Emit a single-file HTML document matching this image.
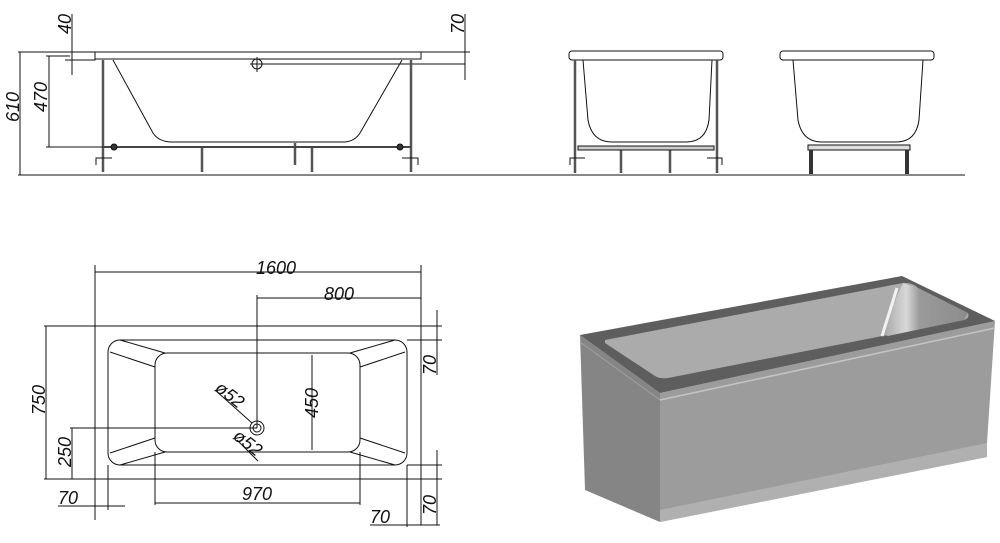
<!DOCTYPE html>
<html><head><meta charset="utf-8"><style>
html,body{margin:0;padding:0;background:#fff;width:1000px;height:543px;overflow:hidden}
text{font-family:"Liberation Sans",sans-serif;font-style:italic;font-size:18px;fill:#111}
</style></head><body>
<svg width="1000" height="543" viewBox="0 0 1000 543" xmlns="http://www.w3.org/2000/svg">
<defs>
<linearGradient id="ew" x1="0" y1="0" x2="1" y2="0"><stop offset="0" stop-color="#a0a0a0"/><stop offset="0.3" stop-color="#d8d8d8"/><stop offset="0.45" stop-color="#9a9a9a"/><stop offset="1" stop-color="#8c8c8c"/></linearGradient>
</defs>
<g stroke="#111" stroke-width="1" fill="none">
<line x1="18" y1="175" x2="965" y2="175"/>
<!-- front view -->
<path d="M72 52 H421 V59 H95 V60 H72 Z" fill="#fff"/>
<line x1="95" y1="52" x2="95" y2="59"/>
<path d="M113 60 L153 133 Q158 141 170 142 L345 142 Q355 141 360 133 L402 60"/>
<circle cx="257" cy="64" r="5"/><line x1="257" y1="57" x2="257" y2="72"/><line x1="250" y1="64" x2="264" y2="64"/>
<line x1="262" y1="64" x2="465" y2="64"/>
<g stroke="#555" stroke-width="2.5"><line x1="103" y1="60" x2="103" y2="172"/><line x1="411" y1="60" x2="411" y2="172"/>
<line x1="202" y1="148" x2="202" y2="172"/><line x1="312" y1="148" x2="312" y2="172"/><line x1="295" y1="143" x2="295" y2="165"/></g>
<line x1="103" y1="147" x2="411" y2="147" stroke="#444" stroke-width="2"/>
<circle cx="114" cy="147" r="3" fill="#333"/><circle cx="400" cy="147" r="3" fill="#333"/>
<path d="M96 165 V158 H112 M418 165 V158 H402"/>
<line x1="18" y1="52" x2="95" y2="52"/><line x1="20" y1="52" x2="20" y2="175"/>
<line x1="46" y1="56" x2="70" y2="56"/><line x1="49" y1="56" x2="49" y2="147"/><line x1="46" y1="147" x2="103" y2="147"/>
<line x1="72" y1="14" x2="72" y2="75"/><line x1="65" y1="60" x2="80" y2="60"/>
<line x1="421" y1="52" x2="470" y2="52"/><line x1="465" y1="14" x2="465" y2="80"/>
<!-- side view 1 -->
<rect x="569" y="51" width="154" height="9" rx="3" fill="#fff"/>
<path d="M583 60 L588 120 Q592 142 612 142 L686 142 Q706 142 709 120 L712 60"/>
<g stroke="#555" stroke-width="2.5"><line x1="575" y1="60" x2="575" y2="173"/><line x1="717" y1="60" x2="717" y2="173"/>
<line x1="621" y1="150" x2="621" y2="173"/><line x1="670" y1="150" x2="670" y2="173"/></g>
<rect x="578" y="146" width="136" height="4" fill="#ccc"/>
<path d="M570 165 V158 H585 M722 165 V158 H707"/>
<!-- side view 2 -->
<rect x="780" y="51" width="154" height="9" rx="3" fill="#fff"/>
<path d="M793 60 L798 120 Q802 142 822 142 L896 142 Q916 142 919 120 L923 60"/>
<rect x="808" y="145" width="102" height="5" fill="#ddd"/>
<g stroke-width="4" stroke="#333"><line x1="811" y1="150" x2="811" y2="174"/><line x1="907" y1="150" x2="907" y2="174"/></g>
<!-- plan view -->
<rect x="95" y="326" width="326" height="153"/>
<rect x="108" y="340" width="299" height="125" rx="12"/>
<rect x="155" y="353" width="205" height="99" rx="12"/>
<path d="M120 340 L165 353 M110 352 L155 367 M395 340 L350 353 M405 352 L360 367 M120 465 L165 452 M110 453 L155 438 M395 465 L350 452 M405 453 L360 438"/>
<line x1="95" y1="265" x2="95" y2="520"/><line x1="421" y1="265" x2="421" y2="525"/>
<line x1="95" y1="272" x2="421" y2="272"/>
<line x1="257" y1="298" x2="421" y2="298"/><line x1="257" y1="295" x2="257" y2="428"/>
<circle cx="257" cy="428" r="7"/><circle cx="257" cy="428" r="4"/>
<line x1="215" y1="390" x2="252" y2="423"/><line x1="237" y1="440" x2="258" y2="461"/>
<line x1="312" y1="355" x2="312" y2="450"/><line x1="300" y1="353" x2="320" y2="353"/><line x1="300" y1="452" x2="320" y2="452"/>
<line x1="44" y1="326" x2="95" y2="326"/><line x1="44" y1="479" x2="95" y2="479"/><line x1="46" y1="326" x2="46" y2="479"/>
<line x1="70" y1="428" x2="257" y2="428"/><line x1="72" y1="428" x2="72" y2="479"/>
<line x1="155" y1="452" x2="155" y2="505"/><line x1="360" y1="452" x2="360" y2="505"/><line x1="155" y1="503" x2="360" y2="503"/>
<line x1="108" y1="465" x2="108" y2="510"/><line x1="58" y1="506" x2="125" y2="506"/>
<line x1="407" y1="465" x2="407" y2="527"/><line x1="370" y1="525" x2="440" y2="525"/>
<line x1="421" y1="326" x2="442" y2="326"/><line x1="407" y1="340" x2="442" y2="340"/><line x1="437" y1="310" x2="437" y2="375"/>
<line x1="421" y1="479" x2="442" y2="479"/><line x1="407" y1="465" x2="442" y2="465"/><line x1="437" y1="450" x2="437" y2="525"/>
</g>
<text transform="translate(19,122) rotate(-90)">610</text>
<text transform="translate(47,112) rotate(-90)">470</text>
<text transform="translate(71,34) rotate(-90)">40</text>
<text transform="translate(464,34) rotate(-90)">70</text>
<text x="256" y="274">1600</text>
<text x="324" y="300">800</text>
<text transform="translate(45,415) rotate(-90)">750</text>
<text transform="translate(71,467) rotate(-90)">250</text>
<text transform="translate(318,418) rotate(-90)">450</text>
<text transform="translate(436,375) rotate(-90)">70</text>
<text transform="translate(436,515) rotate(-90)">70</text>
<text x="242" y="500">970</text>
<text x="58" y="504">70</text>
<text x="370" y="523">70</text>
<text transform="translate(214,390) rotate(38)" font-size="15">ø52</text>
<text transform="translate(232,438) rotate(38)" font-size="15">ø52</text>
<!-- 3D render -->
<polygon points="580,335 660,393 660,522 585,490" fill="#858585"/>
<polygon points="660,393 995,321 987,443 987,457 660,522" fill="#9c9c9c"/>
<polygon points="660,510 987,443 987,457 660,522" fill="#b0b0b0"/>
<polygon points="580,335 902,276 995,321 660,393" fill="#5e5e5e"/>
<path d="M605,340 L903,283 Q912,282 918,288 L968,313 Q970,318 964,320 L668,378 Q660,379 655,376 L605,343 Z" fill="#ababab"/>
<polygon points="903,283 918,288 968,313 964,320 888,336 880,334" fill="url(#ew)"/>
<line x1="897" y1="288" x2="882" y2="336" stroke="#f2f2f2" stroke-width="3"/>
<line x1="660" y1="400" x2="995" y2="328" stroke="#c4c4c4" stroke-width="1.5"/>
<line x1="580" y1="342" x2="660" y2="400" stroke="#a0a0a0" stroke-width="1"/>
</svg>
</body></html>
